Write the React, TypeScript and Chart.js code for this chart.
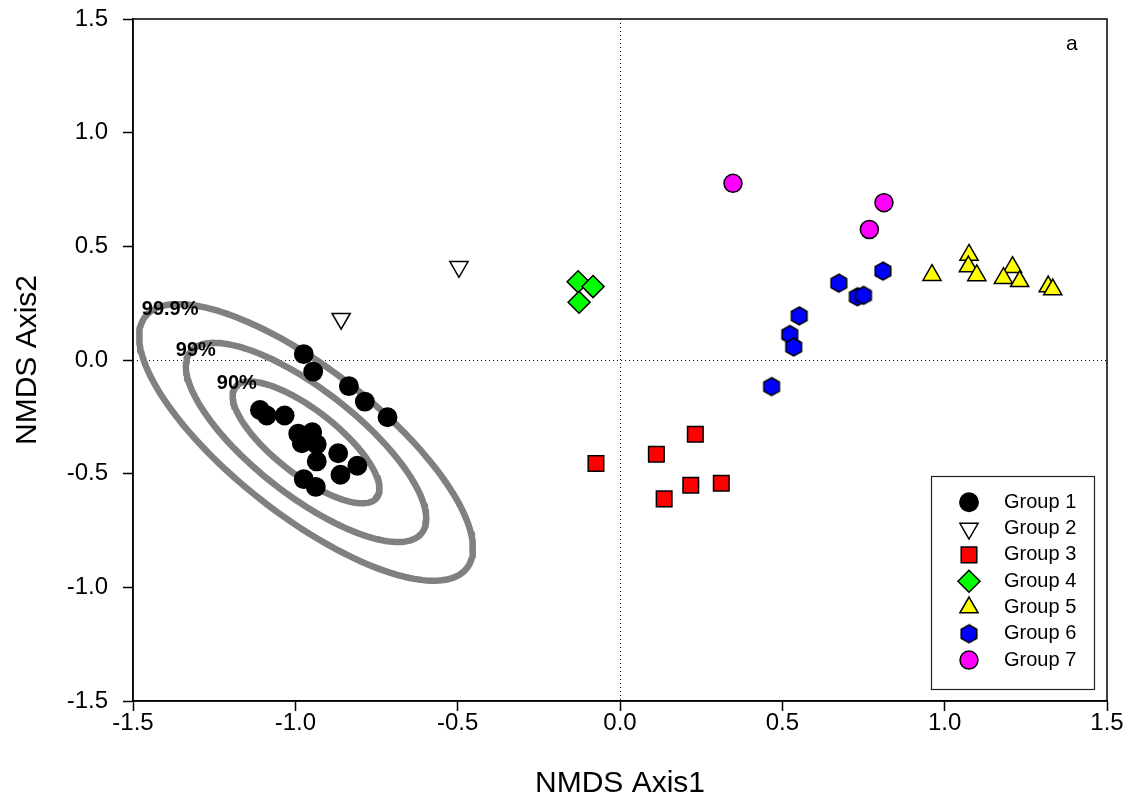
import React, { useEffect, useRef } from 'react';
import { Chart, registerables } from 'chart.js';
import { drawPoint } from 'chart.js/helpers';

Chart.register(...registerables);

// ---------- data ----------
const groupNames = ['Group 1', 'Group 2', 'Group 3', 'Group 4', 'Group 5', 'Group 6', 'Group 7'];

const group1X = [-0.974, -0.945, -0.835, -0.786, -0.716, -1.109, -1.088, -1.033, -0.991, -0.948, -0.962, -0.980, -0.934, -0.868, -0.934, -0.809, -0.861, -0.974, -0.937];
const group1Y = [0.026, -0.051, -0.115, -0.183, -0.252, -0.220, -0.244, -0.244, -0.324, -0.318, -0.346, -0.366, -0.371, -0.410, -0.446, -0.465, -0.505, -0.524, -0.558];

const group2X = [-0.859, -0.496];
const group2Y = [0.182, 0.410];

const group3X = [-0.074, 0.112, 0.232, 0.218, 0.312, 0.136];
const group3Y = [-0.455, -0.415, -0.327, -0.551, -0.542, -0.611];

const group4X = [-0.129, -0.083, -0.126];
const group4Y = [0.344, 0.323, 0.254];

const group5X = [0.961, 1.075, 1.073, 1.099, 1.209, 1.181, 1.231, 1.319, 1.333];
const group5Y = [0.373, 0.462, 0.411, 0.372, 0.408, 0.360, 0.346, 0.323, 0.310];

const group6X = [0.674, 0.731, 0.750, 0.810, 0.552, 0.523, 0.535, 0.467];
const group6Y = [0.338, 0.278, 0.284, 0.391, 0.194, 0.112, 0.057, -0.117];

const group7X = [0.348, 0.813, 0.768];
const group7Y = [0.777, 0.692, 0.574];

// confidence ellipses around Group 1 (center, semi-axis vectors in data units, relative scales)
const ellipseCenter = [-0.967, -0.3626];
const ellipseMajor = [0.4952, -0.5533];
const ellipseMinor = [-0.1380, -0.2530];
const ellipseScales = [0.44, 0.72, 1.0];
const ellipseLabels = ['90%', '99%', '99.9%'];
const ellipseLabelX = [-1.242, -1.368, -1.473];
const ellipseLabelY = [-0.103, 0.044, 0.223];

const panelLabel = 'a';
const panelLabelX = 1.392;
const panelLabelY = 1.391;

const axisMin = -1.5;
const axisMax = 1.5;
const axisStep = 0.5;
const xTitle = 'NMDS Axis1';
const yTitle = 'NMDS Axis2';

// ---------- helpers ----------
const FONT = '"Liberation Sans", Arial, Helvetica, sans-serif';

function pts(xs: number[], ys: number[]) {
  return xs.map((x, i) => ({ x, y: ys[i] }));
}

function ellipsePoints(scale: number) {
  const out: { x: number; y: number }[] = [];
  const n = 180;
  for (let i = 0; i <= n + 2; i++) {
    const t = (i / n) * Math.PI * 2;
    const c = Math.cos(t);
    const s = Math.sin(t);
    out.push({
      x: ellipseCenter[0] + scale * (ellipseMajor[0] * c + ellipseMinor[0] * s),
      y: ellipseCenter[1] + scale * (ellipseMajor[1] * c + ellipseMinor[1] * s),
    });
  }
  return out;
}

function makeHexagon(r: number, fill: string) {
  const size = 22;
  const c = document.createElement('canvas');
  c.width = size;
  c.height = size;
  const g = c.getContext('2d')!;
  g.beginPath();
  for (let i = 0; i < 6; i++) {
    const a = -Math.PI / 2 + (i * Math.PI) / 3;
    const px = size / 2 + r * Math.cos(a);
    const py = size / 2 + r * Math.sin(a);
    if (i === 0) g.moveTo(px, py);
    else g.lineTo(px, py);
  }
  g.closePath();
  g.fillStyle = fill;
  g.fill();
  g.lineWidth = 1.5;
  g.strokeStyle = '#000';
  g.stroke();
  return c;
}

export default function App() {
  const ref = useRef<HTMLCanvasElement>(null);

  useEffect(() => {
    const hex = makeHexagon(9, '#0000FF');

    const styles: any[] = [
      { pointStyle: 'circle', radius: 9.2, rotation: 0, fill: '#000000' },
      { pointStyle: 'triangle', radius: 10.5, rotation: 180, fill: '#FFFFFF' },
      { pointStyle: 'rect', radius: 11, rotation: 0, fill: '#FF0000' },
      { pointStyle: 'rectRot', radius: 11, rotation: 0, fill: '#00FF00' },
      { pointStyle: 'triangle', radius: 10.5, rotation: 0, fill: '#FFFF00' },
      { pointStyle: hex, radius: 9, rotation: 0, fill: '#0000FF' },
      { pointStyle: 'circle', radius: 9, rotation: 0, fill: '#FF00FF' },
    ];

    const groupData = [
      pts(group1X, group1Y),
      pts(group2X, group2Y),
      pts(group3X, group3Y),
      pts(group4X, group4Y),
      pts(group5X, group5Y),
      pts(group6X, group6Y),
      pts(group7X, group7Y),
    ];

    const datasets: any[] = groupData.map((d, i) => ({
      label: groupNames[i],
      data: d,
      pointStyle: styles[i].pointStyle,
      pointRadius: styles[i].radius,
      pointRotation: styles[i].rotation,
      backgroundColor: styles[i].fill,
      borderColor: '#000000',
      borderWidth: 1.5,
      showLine: false,
    }));

    ellipseScales.forEach((s, i) => {
      datasets.push({
        label: ellipseLabels[i],
        data: ellipsePoints(s),
        showLine: true,
        pointRadius: 0,
        borderColor: '#808080',
        borderWidth: 6.5,
        borderCapStyle: 'round',
        borderJoinStyle: 'round',
        backgroundColor: 'transparent',
        fill: false,
        tension: 0,
      });
    });

    const decor = {
      id: 'decor',
      beforeDatasetsDraw(chart: any) {
        const { ctx, chartArea, scales } = chart;
        const x0 = scales.x.getPixelForValue(0);
        const y0 = scales.y.getPixelForValue(0);
        ctx.save();
        ctx.strokeStyle = '#000';
        ctx.lineWidth = 1;
        ctx.setLineDash([1, 3]);
        ctx.beginPath();
        ctx.moveTo(Math.round(x0) + 0.5, chartArea.top);
        ctx.lineTo(Math.round(x0) + 0.5, chartArea.bottom);
        ctx.moveTo(chartArea.left, Math.round(y0) + 0.5);
        ctx.lineTo(chartArea.right, Math.round(y0) + 0.5);
        ctx.stroke();
        ctx.restore();
      },
      afterDatasetsDraw(chart: any) {
        const { ctx, scales } = chart;
        ctx.save();
        ctx.fillStyle = '#000';
        ctx.font = 'bold 20px ' + FONT;
        ctx.textAlign = 'left';
        ctx.textBaseline = 'middle';
        ellipseLabels.forEach((t, i) => {
          ctx.fillText(t, scales.x.getPixelForValue(ellipseLabelX[i]), scales.y.getPixelForValue(ellipseLabelY[i]));
        });
        ctx.restore();
      },
      afterDraw(chart: any) {
        const { ctx, chartArea, scales } = chart;
        ctx.save();
        // frame
        ctx.strokeStyle = '#000';
        ctx.lineWidth = 1.5;
        ctx.strokeRect(chartArea.left, chartArea.top, chartArea.right - chartArea.left, chartArea.bottom - chartArea.top);
        // panel label
        ctx.fillStyle = '#000';
        ctx.font = '21px ' + FONT;
        ctx.textAlign = 'center';
        ctx.textBaseline = 'middle';
        ctx.fillText(panelLabel, scales.x.getPixelForValue(panelLabelX), scales.y.getPixelForValue(panelLabelY));
        // legend
        const boxL = 931, boxT = 476, boxR = 1094, boxB = 689;
        ctx.fillStyle = '#FFFFFF';
        ctx.fillRect(boxL, boxT, boxR - boxL, boxB - boxT);
        ctx.strokeStyle = '#222';
        ctx.lineWidth = 1.2;
        ctx.strokeRect(boxL + 0.5, boxT + 0.5, boxR - boxL, boxB - boxT);
        const rowY0 = 502.3, rowStep = 26.3, markX = 969, textX = 1004;
        groupNames.forEach((name, i) => {
          const y = rowY0 + i * rowStep;
          ctx.fillStyle = styles[i].fill;
          ctx.strokeStyle = '#000';
          ctx.lineWidth = 1.5;
          drawPoint(ctx, { pointStyle: styles[i].pointStyle, radius: styles[i].radius, rotation: styles[i].rotation, borderWidth: 1.5 } as any, markX, y);
          ctx.fillStyle = '#000';
          ctx.font = '20px ' + FONT;
          ctx.textAlign = 'left';
          ctx.textBaseline = 'middle';
          ctx.fillText(name, textX, y);
        });
        ctx.restore();
      },
    };

    const chart = new Chart(ref.current!, {
      type: 'scatter',
      data: { datasets },
      options: {
        responsive: false,
        animation: false,
        devicePixelRatio: 1,
        layout: { padding: { left: 0, top: 19, right: 27, bottom: 0 } },
        plugins: { legend: { display: false }, tooltip: { enabled: false } },
        events: [],
        scales: {
          x: {
            type: 'linear',
            min: axisMin,
            max: axisMax,
            afterFit: (s: any) => { s.height = 108; s.paddingLeft = 0; s.paddingRight = 0; },
            ticks: {
              stepSize: axisStep,
              autoSkip: false,
              maxRotation: 0,
              padding: -2,
              color: '#000',
              font: { family: FONT, size: 24 },
              callback: (v: any) => Number(v).toFixed(1),
            },
            grid: { drawOnChartArea: false, drawTicks: true, tickLength: 10, tickColor: '#000', tickWidth: 1.5 },
            border: { display: true, color: '#000', width: 1.5 },
            title: { display: true, text: xTitle, color: '#000', font: { family: FONT, size: 30 }, padding: { top: 0, bottom: 7.6 } },
          },
          y: {
            type: 'linear',
            min: axisMin,
            max: axisMax,
            afterFit: (s: any) => { s.width = 133; s.paddingTop = 0; s.paddingBottom = 0; },
            ticks: {
              stepSize: axisStep,
              autoSkip: false,
              padding: 15,
              color: '#000',
              font: { family: FONT, size: 24 },
              callback: (v: any) => Number(v).toFixed(1),
            },
            grid: { drawOnChartArea: false, drawTicks: true, tickLength: 10, tickColor: '#000', tickWidth: 1.5 },
            border: { display: true, color: '#000', width: 1.5 },
            title: { display: true, text: yTitle, color: '#000', font: { family: FONT, size: 30 }, padding: { top: 9.4, bottom: 0 } },
          },
        },
      } as any,
      plugins: [decor],
    });
    return () => chart.destroy();
  }, []);

  return (
    <div style={{ position: 'absolute', left: 0, top: 0, width: 1134, height: 809, background: '#fff' }}>
      <canvas ref={ref} width={1134} height={809} style={{ display: 'block' }} />
    </div>
  );
}
